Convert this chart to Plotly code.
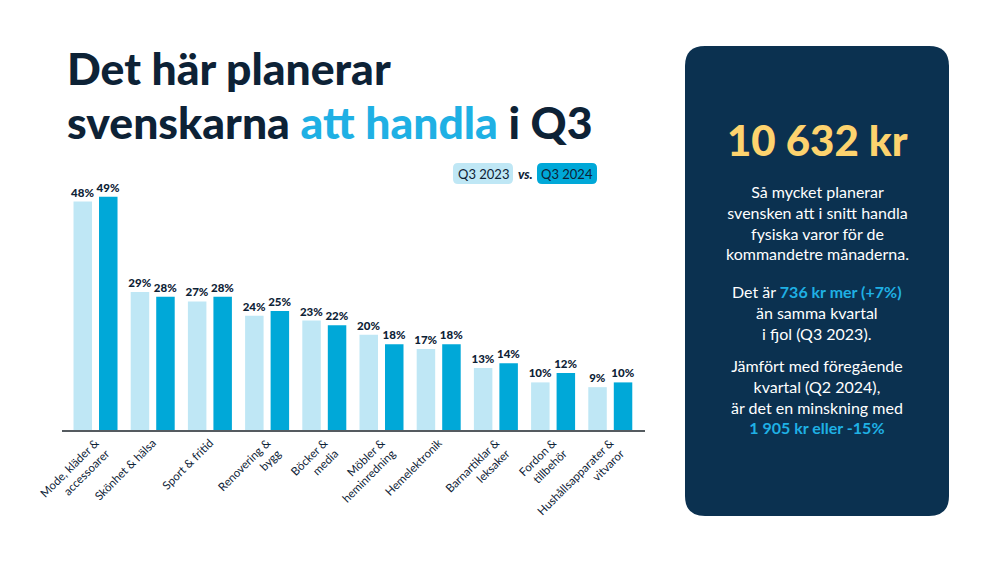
import plotly.graph_objects as go

categories = ["Mode, kläder &<br>accessoarer", "Skönhet & hälsa", "Sport & fritid",
              "Renovering &<br>bygg", "Böcker &<br>media", "Möbler &<br>heminredning",
              "Hemelektronik", "Barnartiklar &<br>leksaker", "Fordon &<br>tillbehör",
              "Hushållsapparater &<br>vitvaror"]
q3_2023 = [48, 29, 27, 24, 23, 20, 17, 13, 10, 9]
q3_2024 = [49, 28, 28, 25, 22, 18, 18, 14, 12, 10]
series_names = ["Q3 2023", "Q3 2024"]

NAVY = "#0d2236"
LIGHT = "#bfe7f5"
CYAN = "#00a8d8"
PANEL = "#0b3150"
ACCENT = "#1fb0e4"
YELLOW = "#fdd36e"
FONT = "Lato"

# plot area in pixels
L, R, T, B = 62, 645, 192, 430
W, H = 1000, 563


def px(x):
    return (x - L) / (R - L)


def py(y):
    return (B - y) / (B - T)


def rrect(x0, y0, x1, y1, r):
    pts = [
        ("M", (x0 + r, y0)), ("L", (x1 - r, y0)), ("Q", (x1, y0), (x1, y0 + r)),
        ("L", (x1, y1 - r)), ("Q", (x1, y1), (x1 - r, y1)), ("L", (x0 + r, y1)),
        ("Q", (x0, y1), (x0, y1 - r)), ("L", (x0, y0 + r)), ("Q", (x0, y0), (x0 + r, y0)),
    ]
    s = ""
    for p in pts:
        s += p[0] + " " + " ".join(f"{px(a):.5f},{py(b):.5f}" for a, b in p[1:]) + " "
    return s + "Z"


fig = go.Figure()
for name, vals, col in [(series_names[0], q3_2023, LIGHT), (series_names[1], q3_2024, CYAN)]:
    fig.add_trace(go.Bar(
        x=categories, y=vals, name=name, marker=dict(color=col, line=dict(width=0)),
        text=[f"{v}%" for v in vals], textposition="outside", constraintext="none",
        textfont=dict(family=FONT, size=11.5, color=NAVY, weight=900),
        cliponaxis=False, showlegend=False,
    ))

shapes = [
    dict(type="path", xref="paper", yref="paper", path=rrect(685, 46, 949, 516, 20),
         fillcolor=PANEL, line=dict(width=0), layer="below"),
    dict(type="path", xref="paper", yref="paper", path=rrect(453, 163, 513, 184, 5),
         fillcolor=LIGHT, line=dict(width=0), layer="below"),
    dict(type="path", xref="paper", yref="paper", path=rrect(537, 163, 597, 184, 5),
         fillcolor=CYAN, line=dict(width=0), layer="below"),
]

big = "font-size:44.5px"
title_text = (f"<span style='{big}'>Det här planerar</span><br>"
              f"<span style='{big}'>svenskarna </span>"
              f"<span style='{big};color:{ACCENT}'>att handla</span>"
              f"<span style='{big}'> i Q3</span>")

annotations = [
    dict(x=px(65), y=py(95), xanchor="left", align="left", text=title_text,
         font=dict(family=FONT, size=41.5, color=NAVY, weight=900)),
    dict(x=px(483), y=py(173.5), text=series_names[0], font=dict(family=FONT, size=13, color=NAVY)),
    dict(x=px(525), y=py(173.5), text="<i>vs.</i>", font=dict(family=FONT, size=13, color=NAVY, weight=900)),
    dict(x=px(567), y=py(173.5), text=series_names[1], font=dict(family=FONT, size=13, color=NAVY)),
    dict(x=px(817), y=py(140), text="10 632 kr", font=dict(family=FONT, size=42, color=YELLOW, weight=900)),
    dict(x=px(817), y=py(222), text="Så mycket planerar<br>svensken att i snitt handla<br>fysiska varor för de<br>kommandetre månaderna.",
         font=dict(family=FONT, size=16, color="white")),
    dict(x=px(817), y=py(312), text=f"Det är <b><span style='color:{ACCENT}'>736 kr mer (+7%)</span></b><br>än samma kvartal<br>i fjol (Q3 2023).",
         font=dict(family=FONT, size=16, color="white")),
    dict(x=px(817), y=py(396), text=f"Jämfört med föregående<br>kvartal (Q2 2024),<br>är det en minskning med<br><b><span style='color:{ACCENT}'>1 905 kr eller -15%</span></b>",
         font=dict(family=FONT, size=16, color="white")),
]
for a in annotations:
    a.update(xref="paper", yref="paper", showarrow=False)
    a.setdefault("xanchor", "center")
    a.setdefault("yanchor", "middle")

fig.update_layout(
    width=W, height=H, margin=dict(l=L, r=W - R, t=T, b=H - B),
    paper_bgcolor="white", plot_bgcolor="white",
    barmode="group", bargap=0.108, bargroupgap=0.275,
    shapes=shapes, annotations=annotations,
    xaxis=dict(range=[-0.586, 9.607], showline=True, linecolor="#555b60", linewidth=1.5,
               ticks="", tickangle=-45, showgrid=False, zeroline=False,
               tickfont=dict(family=FONT, size=11.5, color=NAVY)),
    yaxis=dict(range=[0, 50], visible=False),
    font=dict(family=FONT),
)

fig.write_html("out.html")
